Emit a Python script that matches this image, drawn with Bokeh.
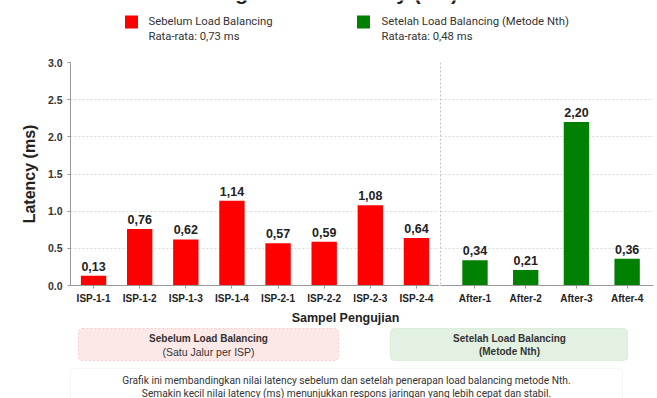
from bokeh.plotting import figure
from bokeh.layouts import column, row
from bokeh.models import (Range1d, FactorRange, ColumnDataSource, Span, BoxAnnotation,
                          FixedTicker, PrintfTickFormatter)
from bokeh.core.properties import value
from bokeh.embed import file_html
from bokeh.resources import INLINE

# ---------------- data ----------------
before_labels = ["ISP-1-1", "ISP-1-2", "ISP-1-3", "ISP-1-4",
                 "ISP-2-1", "ISP-2-2", "ISP-2-3", "ISP-2-4"]
before_values = [0.13, 0.76, 0.62, 1.14, 0.57, 0.59, 1.08, 0.64]
after_labels = ["After-1", "After-2", "After-3", "After-4"]
after_values = [0.34, 0.21, 2.20, 0.36]
y_ticks = [0.0, 0.5, 1.0, 1.5, 2.0, 2.5, 3.0]

title_text = "Perbandingan Nilai Latency (ms)"
legend_before = ["Sebelum Load Balancing", "Rata-rata: 0,73 ms"]
legend_after = ["Setelah Load Balancing (Metode Nth)", "Rata-rata: 0,48 ms"]
box_before = ["Sebelum Load Balancing", "(Satu Jalur per ISP)"]
box_after = ["Setelah Load Balancing", "(Metode Nth)"]
caption = ["Grafik ini membandingkan nilai latency sebelum dan setelah penerapan load balancing metode Nth.",
           "Semakin kecil nilai latency (ms) menunjukkan respons jaringan yang lebih cepat dan stabil."]
x_title = "Sampel Pengujian"
y_title = "Latency (ms)"

RED = "#ff0000"
GREEN = "#008000"
AXIS_FONT = "Liberation Sans"
TEXT_FONT = "Roboto"


def fmt(v):
    return f"{v:.2f}".replace(".", ",")


def blank(fig):
    fig.axis.visible = False
    fig.grid.visible = False
    fig.outline_line_color = None
    fig.background_fill_color = "white"
    fig.border_fill_color = "white"


# ---------------- top strip (title fragment + legend) ----------------
pt = figure(width=657, height=50, x_range=Range1d(0, 657), y_range=Range1d(50, 0),
            output_backend="svg", toolbar_location=None, min_border=0)
blank(pt)
pt.text(x=[132], y=[-8], text=[title_text], text_baseline="alphabetic",
        text_font=value(AXIS_FONT), text_font_style="bold", text_font_size="21px",
        text_color="#222222")
pt.rect(x=[131, 363], y=[21.5, 21.5], width=13, height=13,
        fill_color=[RED, GREEN], line_color=None)
pt.text(x=[148, 148], y=[21, 36], text=legend_before, text_baseline="middle",
        text_font=value(TEXT_FONT), text_font_size="11.3px", text_color="#333333")
pt.text(x=[381, 381], y=[21, 36], text=legend_after, text_baseline="middle",
        text_font=value(TEXT_FONT), text_font_size="11.3px", text_color="#333333")

# ---------------- main chart ----------------
yr = Range1d(0, 3.0)


def style(fig):
    fig.outline_line_color = None
    fig.xgrid.grid_line_color = None
    fig.ygrid.grid_line_color = "#d9d9d9"
    fig.ygrid.grid_line_dash = "2 2"
    fig.ygrid.ticker = FixedTicker(ticks=y_ticks)
    for ax in fig.axis:
        ax.axis_line_color = "#999999"
        ax.major_tick_line_color = "#999999"
        ax.minor_tick_line_color = None
        ax.major_tick_in = 0
        ax.major_tick_out = 3
    fig.xaxis.major_label_standoff = 4
    fig.xaxis.major_label_text_font = AXIS_FONT
    fig.xaxis.major_label_text_font_style = "bold"
    fig.xaxis.major_label_text_font_size = "10px"
    fig.xaxis.major_label_text_color = "#222222"


pl = figure(width=439, height=256, x_range=FactorRange(factors=before_labels, range_padding=0),
            y_range=yr, output_backend="svg", toolbar_location=None,
            min_border_left=70, min_border_right=0, min_border_top=12, min_border_bottom=19)
style(pl)
pl.yaxis.ticker = FixedTicker(ticks=y_ticks)
pl.yaxis.formatter = PrintfTickFormatter(format="%.1f")
pl.yaxis.major_label_text_font = AXIS_FONT
pl.yaxis.major_label_text_font_style = "bold"
pl.yaxis.major_label_text_font_size = "10.5px"
pl.yaxis.major_label_text_color = "#333333"
pl.yaxis.major_label_standoff = 5
pl.yaxis.axis_label = y_title
pl.yaxis.axis_label_text_font = AXIS_FONT
pl.yaxis.axis_label_text_font_style = "bold"
pl.yaxis.axis_label_text_font_size = "16px"
pl.yaxis.axis_label_text_color = "#222222"
pl.yaxis.axis_label_standoff = 7

src_b = ColumnDataSource(dict(x=before_labels, top=before_values,
                              lab=[fmt(v) for v in before_values]))
pl.vbar(x="x", top="top", width=0.55, source=src_b, fill_color=RED, line_color=None)
pl.text(x="x", y="top", text="lab", source=src_b, text_align="center",
        text_baseline="bottom", y_offset=-5, text_font=value(AXIS_FONT),
        text_font_style="bold", text_font_size="12.5px", text_color="#222222")

after_idx = list(range(len(after_labels)))
pr = figure(width=218, height=256, x_range=Range1d(-0.68, 3.52), y_range=yr,
            y_axis_location=None, output_backend="svg", toolbar_location=None,
            min_border_left=1, min_border_right=4, min_border_top=12, min_border_bottom=19)
style(pr)
pr.xaxis.ticker = FixedTicker(ticks=after_idx)
pr.xaxis.major_label_overrides = {i: lab for i, lab in zip(after_idx, after_labels)}
src_a = ColumnDataSource(dict(x=after_idx, top=after_values,
                              lab=[fmt(v) for v in after_values]))
pr.vbar(x="x", top="top", width=0.5, source=src_a, fill_color=GREEN, line_color=None)
pr.text(x="x", y="top", text="lab", source=src_a, text_align="center",
        text_baseline="bottom", y_offset=-5, text_font=value(AXIS_FONT),
        text_font_style="bold", text_font_size="12.5px", text_color="#222222")
pr.add_layout(Span(location=pr.x_range.start, dimension="height", line_color="#888888",
                   line_dash="2 2", line_width=1))

# ---------------- bottom strip ----------------
pb = figure(width=657, height=92, x_range=Range1d(0, 657), y_range=Range1d(398, 306),
            output_backend="svg", toolbar_location=None, min_border=0)
blank(pb)
pb.text(x=[345], y=[317], text=[x_title], text_align="center", text_baseline="middle",
        text_font=value(AXIS_FONT), text_font_style="bold", text_font_size="12.5px",
        text_color="#222222")
pb.add_layout(BoxAnnotation(left=78, right=338, top=328, bottom=360,
                            fill_color="#fde8e8", fill_alpha=1,
                            line_color="#e57373", line_dash="2 2", line_width=1,
                            border_radius=4, level="underlay"))
pb.add_layout(BoxAnnotation(left=390, right=627, top=328, bottom=360,
                            fill_color="#e3f1e3", fill_alpha=1,
                            line_color="#a9d4a9", line_width=1, border_radius=4,
                            level="underlay"))
pb.add_layout(BoxAnnotation(left=70, right=622, top=368, bottom=412,
                            fill_color="white", fill_alpha=1,
                            line_color="#dddddd", line_width=1, border_radius=4,
                            level="underlay"))
pb.text(x=[208], y=[338], text=[box_before[0]], text_align="center", text_baseline="middle",
        text_font=value(AXIS_FONT), text_font_style="bold", text_font_size="10px",
        text_color="#333333")
pb.text(x=[208], y=[351], text=[box_before[1]], text_align="center", text_baseline="middle",
        text_font=value(AXIS_FONT), text_font_size="10.5px", text_color="#333333")
pb.text(x=[509, 509], y=[338, 351], text=box_after, text_align="center",
        text_baseline="middle", text_font=value(AXIS_FONT), text_font_style="bold",
        text_font_size="10px", text_color="#333333")
pb.text(x=[346, 346], y=[380, 393], text=caption, text_align="center",
        text_baseline="middle", text_font=value(TEXT_FONT), text_font_size="10.2px",
        text_color="#333333")

layout = column(pt, row(pl, pr), pb)
open("out.html", "w").write(file_html(layout, INLINE))
